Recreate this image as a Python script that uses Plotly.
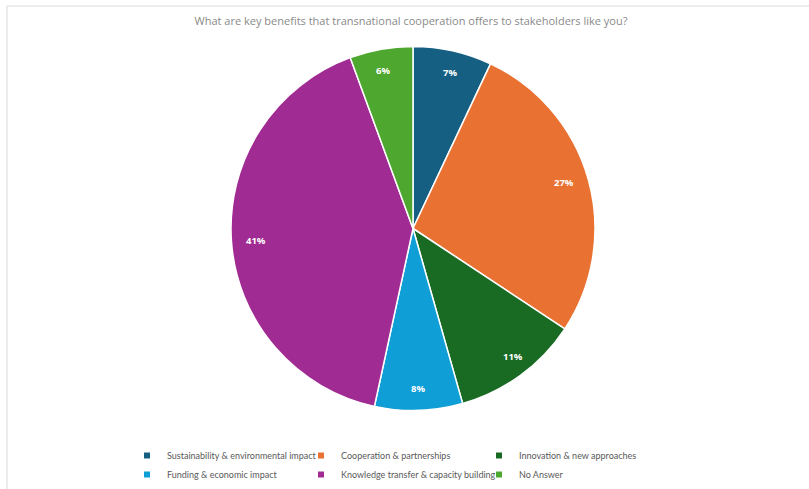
import math
import plotly.graph_objects as go

categories = [
    "Sustainability & environmental impact",
    "Cooperation & partnerships",
    "Innovation & new approaches",
    "Funding & economic impact",
    "Knowledge transfer & capacity building",
    "No Answer",
]
values = [7.0, 27.3, 11.3, 7.8, 41.0, 5.6]
labels_text = ["7%", "27%", "11%", "8%", "41%", "6%"]
colors = ["#156082", "#E97132", "#196B24", "#0F9ED5", "#A02B93", "#4EA72E"]
title_text = "What are key benefits that transnational cooperation offers to stakeholders like you?"

W, H = 809, 489
MB = 60
PH = H - MB  # plot-area height (top margin 0)
cx_px, cy_px, R = 413, 228.5, 182

dom_x = [(cx_px - R) / W, (cx_px + R) / W]
dom_y = [(PH - cy_px - R) / PH, (PH - cy_px + R) / PH]

fig = go.Figure()
fig.add_trace(go.Pie(
    labels=categories,
    values=values,
    sort=False,
    direction="clockwise",
    rotation=0,
    marker=dict(colors=colors, line=dict(color="white", width=1.5)),
    textinfo="none",
    domain=dict(x=dom_x, y=dom_y),
    hoverinfo="label+percent",
    showlegend=False,
))

# data labels near the outer edge (inside end), positioned from the data
total = sum(values)
cum = 0
cxp = cx_px / W
cyp = (PH - cy_px) / PH
r_lab = 169
for v, t in zip(values, labels_text):
    theta = 2 * math.pi * (cum + v / 2) / total
    cum += v
    fig.add_annotation(
        x=cxp + r_lab * math.sin(theta) / W,
        y=cyp + r_lab * math.cos(theta) / PH,
        xref="paper", yref="paper",
        text="<b>%s</b>" % t, showarrow=False,
        font=dict(family="Open Sans", size=9.5, color="white"),
    )

# legend: three columns of two entries (Excel-style layout)
legend_names = ["legend", "legend2", "legend3"]
for i, (cat, col) in enumerate(zip(categories, colors)):
    fig.add_trace(go.Scatter(
        x=[None], y=[None], mode="markers", name=cat,
        marker=dict(symbol="square", size=6, color=col),
        legend=legend_names[i % 3], hoverinfo="skip",
    ))

leg_font = dict(family="Lato", size=9, color="#595959")
leg_top = (PH - 441) / PH
col_x = [127, 301, 479]
leg_common = dict(orientation="v", xanchor="left", yanchor="top", y=leg_top,
                  font=leg_font, bgcolor="rgba(0,0,0,0)", tracegroupgap=0)

# chart frame
fig.add_shape(type="line", xref="paper", yref="paper",
              x0=7 / W, x1=1, y0=(PH - 6) / PH, y1=(PH - 6) / PH,
              line=dict(color="#d9d9d9", width=1))
fig.add_shape(type="line", xref="paper", yref="paper",
              x0=7 / W, x1=7 / W, y0=-MB / PH, y1=(PH - 6) / PH,
              line=dict(color="#d9d9d9", width=1))

fig.update_layout(
    width=W, height=H,
    margin=dict(l=0, r=0, t=0, b=MB),
    paper_bgcolor="white", plot_bgcolor="white",
    title=dict(text=title_text, x=411 / W, xanchor="center",
               y=(H - 21) / H, yanchor="middle",
               font=dict(family="Open Sans", size=11, color="#8a8a8a")),
    showlegend=True,
    xaxis=dict(visible=False), yaxis=dict(visible=False),
    legend=dict(x=col_x[0] / W, **leg_common),
    legend2=dict(x=col_x[1] / W, **leg_common),
    legend3=dict(x=col_x[2] / W, **leg_common),
)

fig.write_html("out.html", config={"displayModeBar": False},
               post_script="document.body.style.margin='0';")
